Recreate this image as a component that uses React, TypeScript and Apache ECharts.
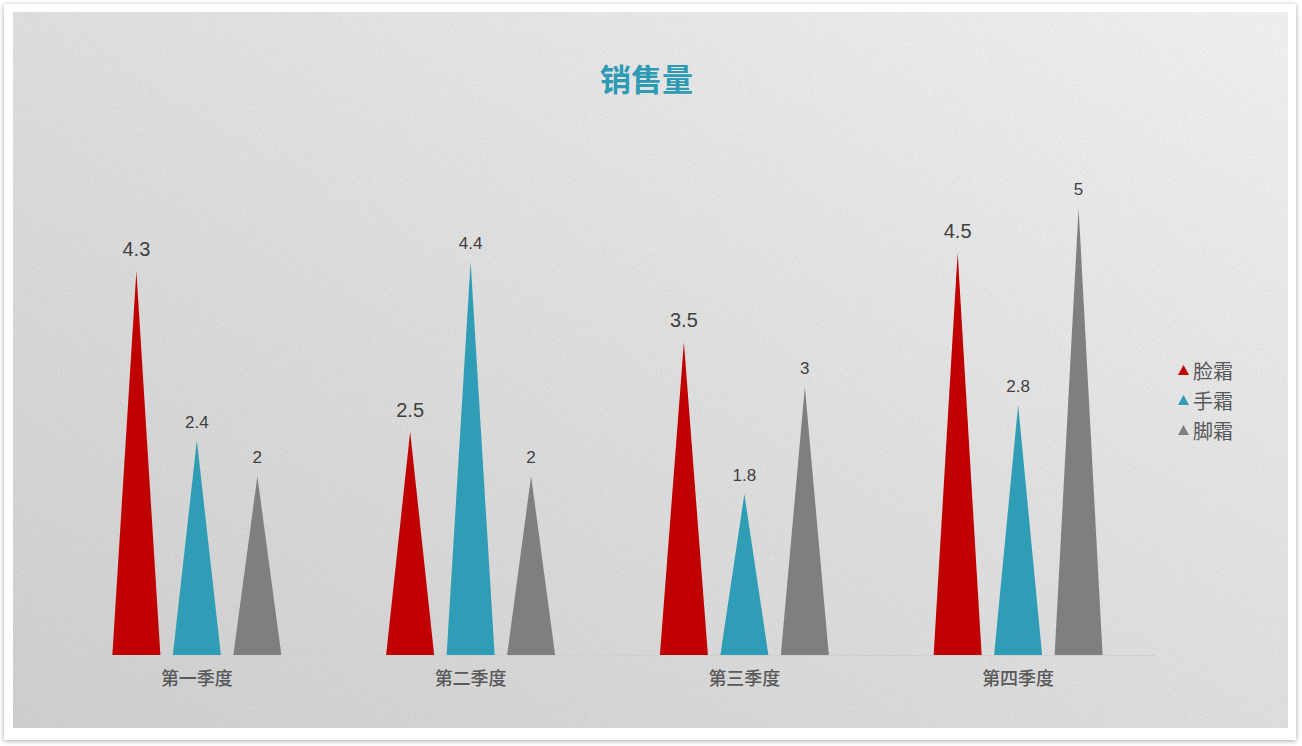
import React, { useEffect, useRef } from 'react';
import * as echarts from 'echarts';

const categories = ['第一季度', '第二季度', '第三季度', '第四季度'];
const seriesNames = ['脸霜', '手霜', '脚霜'];
const faceCream = [4.3, 2.5, 3.5, 4.5];
const handCream = [2.4, 4.4, 1.8, 2.8];
const footCream = [2, 2, 3, 5];
const colors = ['#c00000', '#2e9db5', '#7f7f7f'];

const noise =
  "url(\"data:image/svg+xml;utf8,<svg xmlns='http://www.w3.org/2000/svg' width='300' height='300'><filter id='n'><feTurbulence type='fractalNoise' baseFrequency='0.9' numOctaves='2' stitchTiles='stitch'/><feColorMatrix type='saturate' values='0'/></filter><rect width='100%' height='100%' filter='url(%23n)' opacity='0.3'/></svg>\")";

const App = () => {
  const chartRef = useRef(null);

  useEffect(() => {
    const chart = echarts.init(chartRef.current, null, { renderer: 'svg' });

    const data = [faceCream, handCream, footCream];
    const series = seriesNames.map((name, i) => ({
      name,
      type: 'pictorialBar',
      symbol: 'triangle',
      barWidth: 48,
      barGap: '26%',
      itemStyle: { color: colors[i] },
      label: {
        show: true,
        position: 'top',
        distance: i === 0 ? 12 : 10,
        color: '#404040',
        fontFamily: 'Liberation Sans, Arial, sans-serif',
        fontSize: i === 0 ? 20 : 17,
      },
      data: data[i],
    }));

    chart.setOption({
      animation: false,
      backgroundColor: 'transparent',
      title: {
        text: '销售量',
        left: 595,
        top: 57,
        textStyle: {
          color: '#2e9ab4',
          fontSize: 31,
          fontWeight: 'bold',
          fontFamily: 'Noto Sans CJK SC',
        },
      },
      legend: {
        orient: 'vertical',
        left: 1173,
        top: 355,
        itemGap: 10,
        itemWidth: 11,
        itemHeight: 10,
        icon: 'triangle',
        data: seriesNames,
        textStyle: {
          color: '#595959',
          fontSize: 20,
          fontFamily: 'Noto Sans CJK SC',
          padding: [0, 0, 0, -1],
        },
      },
      grid: { left: 60, right: 147, top: 119, bottom: 91 },
      xAxis: {
        type: 'category',
        data: categories,
        axisTick: { show: false },
        axisLine: { lineStyle: { color: '#d0d0d0', width: 1 } },
        axisLabel: {
          color: '#595959',
          fontSize: 18,
          fontWeight: 500,
          margin: 13,
          fontFamily: 'Noto Sans CJK SC',
        },
      },
      yAxis: {
        type: 'value',
        min: 0,
        max: 6,
        show: false,
        splitLine: { show: false },
      },
      series,
    });

    return () => {
      chart.dispose();
    };
  }, []);

  return (
    <div style={{ position: 'fixed', left: 0, top: 0, width: 1302, height: 746, background: '#ffffff' }}>
      <div
        style={{
          position: 'absolute',
          left: 4,
          top: 4,
          width: 1292,
          height: 736,
          background: '#ffffff',
          boxShadow: '0 1px 5px rgba(0,0,0,0.35)',
        }}
      />
      <div
        style={{
          position: 'absolute',
          left: 13,
          top: 12,
          width: 1275,
          height: 716,
          backgroundColor: '#e2e2e2',
          backgroundImage: noise + ', linear-gradient(to bottom left, #f7f7f7 0%, #e4e4e4 45%, #d0d0d0 100%)',
        }}
      />
      <div ref={chartRef} style={{ position: 'absolute', left: 0, top: 0, width: 1302, height: 746 }} />
    </div>
  );
};

export default App;
